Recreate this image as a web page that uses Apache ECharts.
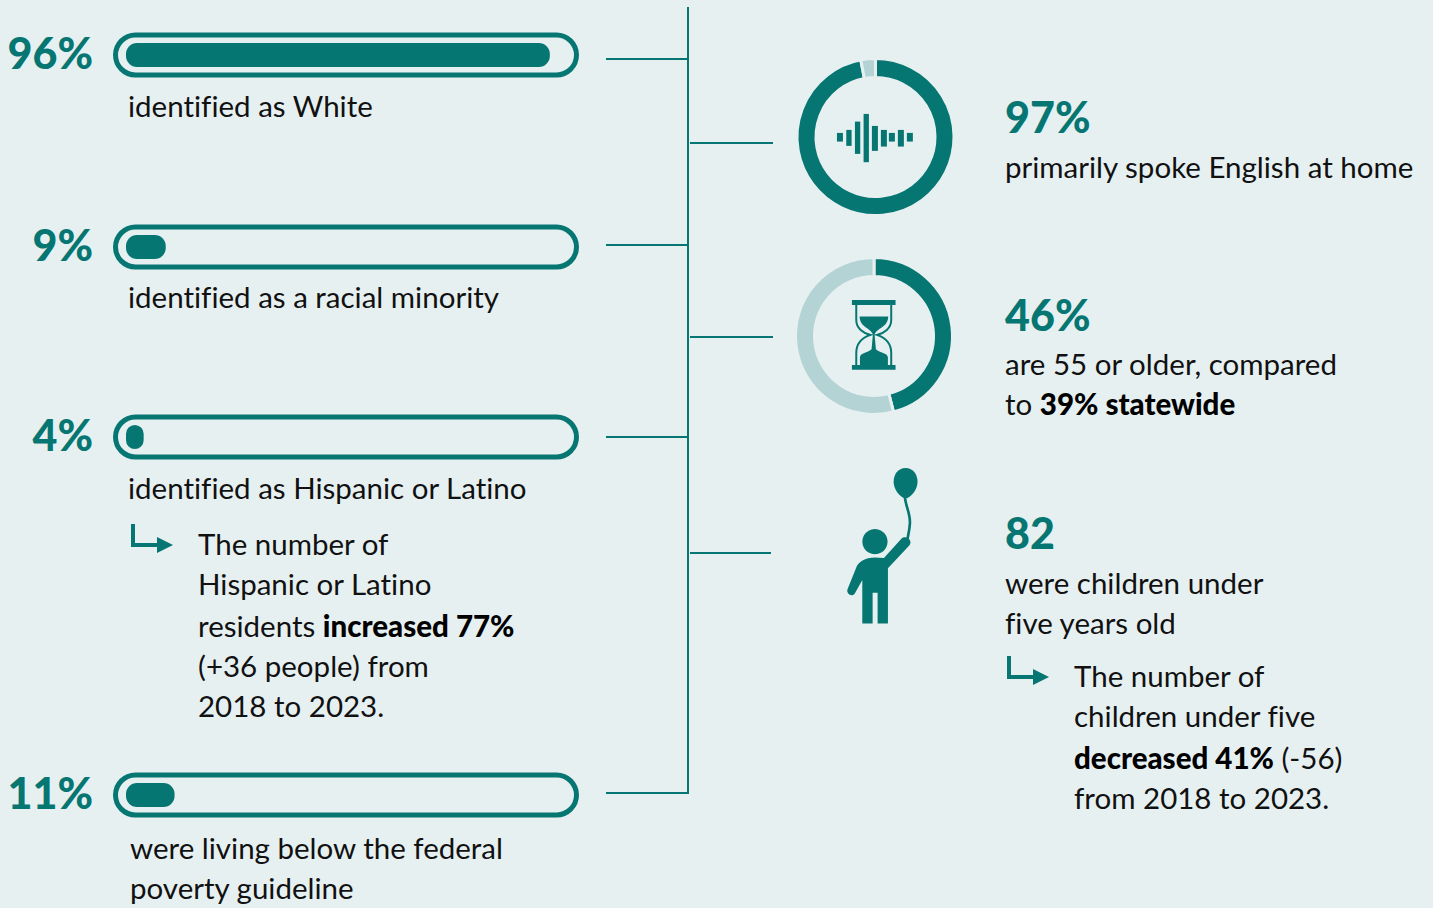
<!DOCTYPE html>
<html>
<head>
<meta charset="utf-8">
<style>html,body{margin:0;padding:0;background:#e6f0f1}#chart{width:1433px;height:908px}#chart text{font-variant-ligatures:none !important}</style>
<script src="https://cdn.jsdelivr.net/npm/echarts@6/dist/echarts.min.js"></script>
</head>
<body>
<div id="chart"></div>
<script>
// Community profile figures
const barValues = [96, 9, 4, 11];
const barCaptions = [
  ['identified as White'],
  ['identified as a racial minority'],
  ['identified as Hispanic or Latino'],
  ['were living below the federal', 'poverty guideline']
];
const hispanicNote = ['The number of', 'Hispanic or Latino', 'residents {b|increased 77%}', '(+36 people) from', '2018 to 2023.'];
const englishShare = 97;
const olderShare = 46;
const childCount = 82;
const englishText = ['primarily spoke English at home'];
const olderText = ['are 55 or older, compared', 'to {b|39% statewide}'];
const childText = ['were children under', 'five years old'];
const childNote = ['The number of', 'children under five', '{b|decreased 41%} (-56)', 'from 2018 to 2023.'];

const TEAL = '#067672', PALE = '#b4d3d4', BG = '#e6f0f1', INK = '#111111', FONT = 'Lato';
const BODY = 29.5, BIG = 43;

const barRows = [55, 247, 437, 795];
const barLeft = 126, barWidth = 441.5, barThick = 24;

const grids = barRows.map(c => ({ left: barLeft, width: barWidth, top: c - barThick / 2, height: barThick }));
const xAxes = barRows.map((_, i) => ({ gridIndex: i, type: 'value', min: 0, max: 100, show: false }));
const yAxes = barRows.map((_, i) => ({ gridIndex: i, type: 'category', data: ['share'], show: false }));
const barSeries = barValues.map((v, i) => ({
  type: 'bar', xAxisIndex: i, yAxisIndex: i, barWidth: barThick, data: [v], silent: true,
  itemStyle: { color: TEAL, borderRadius: 11 },
  label: {
    show: true, position: 'left', distance: 33, offset: [0, -2.5], formatter: '{c}%',
    fontFamily: FONT, fontWeight: 900, fontSize: BIG, color: TEAL
  }
}));

function ring(value, center) {
  return {
    type: 'pie', center, radius: [59.5, 78.5], startAngle: 90, silent: true,
    label: { show: false }, labelLine: { show: false }, animation: false,
    itemStyle: { borderColor: BG, borderWidth: 3 },
    data: [{ value, itemStyle: { color: TEAL } }, { value: 100 - value, itemStyle: { color: PALE } }]
  };
}

const gfx = [];
const richBold = { b: { fontFamily: FONT, fontWeight: 900, fontSize: BODY, fill: '#000' } };
function text(str, x, y, opt) {
  gfx.push({
    type: 'text', silent: true, x, y,
    style: Object.assign({
      text: str, fontFamily: FONT, fontSize: BODY, fill: INK,
      verticalAlign: 'middle', align: 'left', rich: richBold
    }, opt || {})
  });
}
function lines(list, x, ys) { list.forEach((s, i) => text(s, x, ys[i])); }
function big(str, y) { text(str, 1005, y, { fontWeight: 900, fontSize: BIG, fill: TEAL }); }
function rule(x1, y1, x2, y2) {
  gfx.push({ type: 'line', silent: true, shape: { x1, y1, x2, y2 }, style: { stroke: TEAL, lineWidth: 2 } });
}
function track(c) {
  gfx.push({
    type: 'rect', silent: true, z: -1, shape: { x: 115.5, y: c - 20, width: 461, height: 40, r: 20 },
    style: { fill: 'none', stroke: TEAL, lineWidth: 5 }
  });
}
// Elbow arrow leading from a caption to its side note
function elbow(x, y) {
  gfx.push({ type: 'polyline', silent: true, shape: { points: [[x, y], [x, y + 21], [x + 26, y + 21]] },
    style: { fill: 'none', stroke: TEAL, lineWidth: 4 } });
  gfx.push({ type: 'polygon', silent: true,
    shape: { points: [[x + 24, y + 13], [x + 40, y + 21], [x + 24, y + 29]] }, style: { fill: TEAL } });
}

barRows.forEach(track);

rule(688, 7, 688, 794);
[59, 245, 437, 793].forEach(y => rule(606, y, 688, y));
[143, 337].forEach(y => rule(690, y, 773, y));
rule(690, 553, 771, 553);

lines(barCaptions[0], 128, [105.5]);
lines(barCaptions[1], 128, [296.5]);
lines(barCaptions[2], 128, [487.5]);
lines(barCaptions[3], 130, [847.5, 887.5]);
lines(hispanicNote, 198, [543.5, 583.5, 625.5, 665.5, 705.5]);

big(englishShare + '%', 116);
lines(englishText, 1005, [166.5]);
big(olderShare + '%', 314);
lines(olderText, 1005, [363.5, 403.5]);
big(String(childCount), 532);
lines(childText, 1005, [582.5, 622.5]);
lines(childNote, 1074, [675.5, 715.5, 757.5, 797.5]);

elbow(133, 524);
elbow(1009, 656);

// Icons are laid out in a 3x local space and scaled down
const solid = d => ({ type: 'path', shape: { pathData: d }, style: { fill: TEAL } });
const stroked = (d, w) => ({ type: 'path', shape: { pathData: d }, style: { fill: 'none', stroke: TEAL, lineWidth: w } });
const iconGroup = (x, y, children) => ({ type: 'group', x, y, scaleX: 1 / 3, scaleY: 1 / 3, children });

const soundWave = iconGroup(780, 40, [[171,279,18,26],[199,270,16,48],[225,245,16,97],[251,222,16,145],[276,258,18,75],
  [303,270,18,50],[327,279,18,26],[354,270,18,50],[381,279,18,26]].map(r => ({
  type: 'rect', shape: { x: r[0], y: r[1], width: r[2], height: r[3] }, style: { fill: TEAL }
})));

const hourglass = iconGroup(780, 240, [
  solid('M216 180H347V195H216Z'),
  solid('M216 375H347V390H216Z'),
  stroked('M229 195V240C229 265 250 280 272 285C250 292 229 305 229 340V375', 6),
  stroked('M334 195V240C334 265 313 280 291 285C313 292 334 305 334 340V375', 6),
  solid('M239 230H325C324 262 296 262 284 283L279 283C268 262 240 262 239 230Z'),
  solid('M279 283H284L288 328C300 340 322 338 324 352V375H240V352C242 338 262 340 275 328Z')
]);

const balloonChild = iconGroup(820, 460, [
  solid('M257 24C280 24 293 44 293 66C293 88 272 115 257 115C242 115 221 88 221 66C221 44 234 24 257 24Z'),
  stroked('M255 112C258 140 272 165 270 190C269 210 265 225 262 240', 8),
  { type: 'circle', shape: { cx: 165, cy: 245, r: 38 }, style: { fill: TEAL } },
  solid('M192 294L245 236C252 228 268 232 271 243C273 250 270 255 266 259L204 325V491H173V399H158V491H127V360L105 400C98 412 80 405 82 390L108 325C115 305 135 294 165 293Z')
]);

const iconSeries = {
  type: 'custom', coordinateSystem: 'none', silent: true, data: [0],
  renderItem: () => ({ type: 'group', children: [soundWave, hourglass, balloonChild] })
};

const chart = echarts.init(document.getElementById('chart'), null, { renderer: 'svg' });
chart.setOption({
  backgroundColor: BG,
  animation: false,
  grid: grids,
  xAxis: xAxes,
  yAxis: yAxes,
  series: barSeries.concat([ring(englishShare, [875.5, 137]), ring(olderShare, [874, 336]), iconSeries]),
  graphic: gfx
});
</script>
</body>
</html>
